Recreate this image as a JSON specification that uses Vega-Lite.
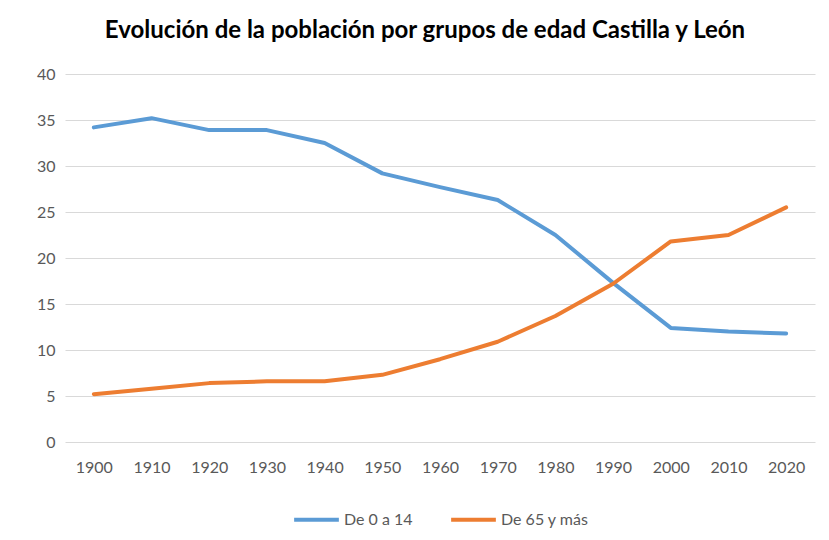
{
  "$schema": "https://vega.github.io/schema/vega-lite/v6.json",
  "autosize": {"type": "none"},
  "width": 750,
  "height": 368,
  "padding": {"left": 65, "top": 74, "right": 14, "bottom": 98},
  "background": "white",
  "title": {
    "text": "Evolución de la población por grupos de edad Castilla y León",
    "font": "Lato",
    "fontSize": 24,
    "fontWeight": "bold",
    "color": "#000000",
    "anchor": "middle",
    "offset": 23,
    "dx": -15
  },
  "data": {
    "values": [
      {"year": "1900", "serie": "De 0 a 14", "value": 34.2},
      {"year": "1910", "serie": "De 0 a 14", "value": 35.2},
      {"year": "1920", "serie": "De 0 a 14", "value": 33.9},
      {"year": "1930", "serie": "De 0 a 14", "value": 33.9},
      {"year": "1940", "serie": "De 0 a 14", "value": 32.5},
      {"year": "1950", "serie": "De 0 a 14", "value": 29.2},
      {"year": "1960", "serie": "De 0 a 14", "value": 27.7},
      {"year": "1970", "serie": "De 0 a 14", "value": 26.3},
      {"year": "1980", "serie": "De 0 a 14", "value": 22.5},
      {"year": "1990", "serie": "De 0 a 14", "value": 17.3},
      {"year": "2000", "serie": "De 0 a 14", "value": 12.4},
      {"year": "2010", "serie": "De 0 a 14", "value": 12.0},
      {"year": "2020", "serie": "De 0 a 14", "value": 11.8},
      {"year": "1900", "serie": "De 65 y más", "value": 5.2},
      {"year": "1910", "serie": "De 65 y más", "value": 5.8},
      {"year": "1920", "serie": "De 65 y más", "value": 6.4},
      {"year": "1930", "serie": "De 65 y más", "value": 6.6},
      {"year": "1940", "serie": "De 65 y más", "value": 6.6},
      {"year": "1950", "serie": "De 65 y más", "value": 7.3},
      {"year": "1960", "serie": "De 65 y más", "value": 9.0},
      {"year": "1970", "serie": "De 65 y más", "value": 10.9},
      {"year": "1980", "serie": "De 65 y más", "value": 13.7},
      {"year": "1990", "serie": "De 65 y más", "value": 17.2},
      {"year": "2000", "serie": "De 65 y más", "value": 21.8},
      {"year": "2010", "serie": "De 65 y más", "value": 22.5},
      {"year": "2020", "serie": "De 65 y más", "value": 25.5}
    ]
  },
  "mark": {"type": "line", "strokeWidth": 4, "strokeCap": "round", "strokeJoin": "round"},
  "encoding": {
    "x": {
      "field": "year",
      "type": "ordinal",
      "scale": {"type": "point", "padding": 0.5},
      "axis": {
        "title": null,
        "labelAngle": 0,
        "domain": false,
        "ticks": false,
        "labelPadding": 17,
        "labelFont": "Lato",
        "labelFontSize": 16,
        "labelColor": "#595959"
      }
    },
    "y": {
      "field": "value",
      "type": "quantitative",
      "scale": {"domain": [0, 40], "nice": false},
      "axis": {
        "title": null,
        "values": [0, 5, 10, 15, 20, 25, 30, 35, 40],
        "domain": false,
        "ticks": false,
        "labelPadding": 10,
        "labelFont": "Lato",
        "labelFontSize": 16,
        "labelColor": "#595959",
        "gridColor": "#d9d9d9",
        "gridWidth": 1
      }
    },
    "color": {
      "field": "serie",
      "type": "nominal",
      "scale": {"domain": ["De 0 a 14", "De 65 y más"], "range": ["#5B9BD5", "#ED7D31"]},
      "legend": {
        "title": null,
        "orient": "bottom",
        "direction": "horizontal",
        "offset": 20,
        "symbolType": "stroke",
        "symbolStrokeWidth": 4,
        "symbolSize": 2000,
        "labelFont": "Lato",
        "labelFontSize": 16,
        "labelColor": "#595959",
        "columnPadding": 30,
        "labelOffset": 3
      }
    }
  },
  "config": {
    "view": {"stroke": null},
    "legend": {"layout": {"bottom": {"anchor": "middle"}}}
  }
}
